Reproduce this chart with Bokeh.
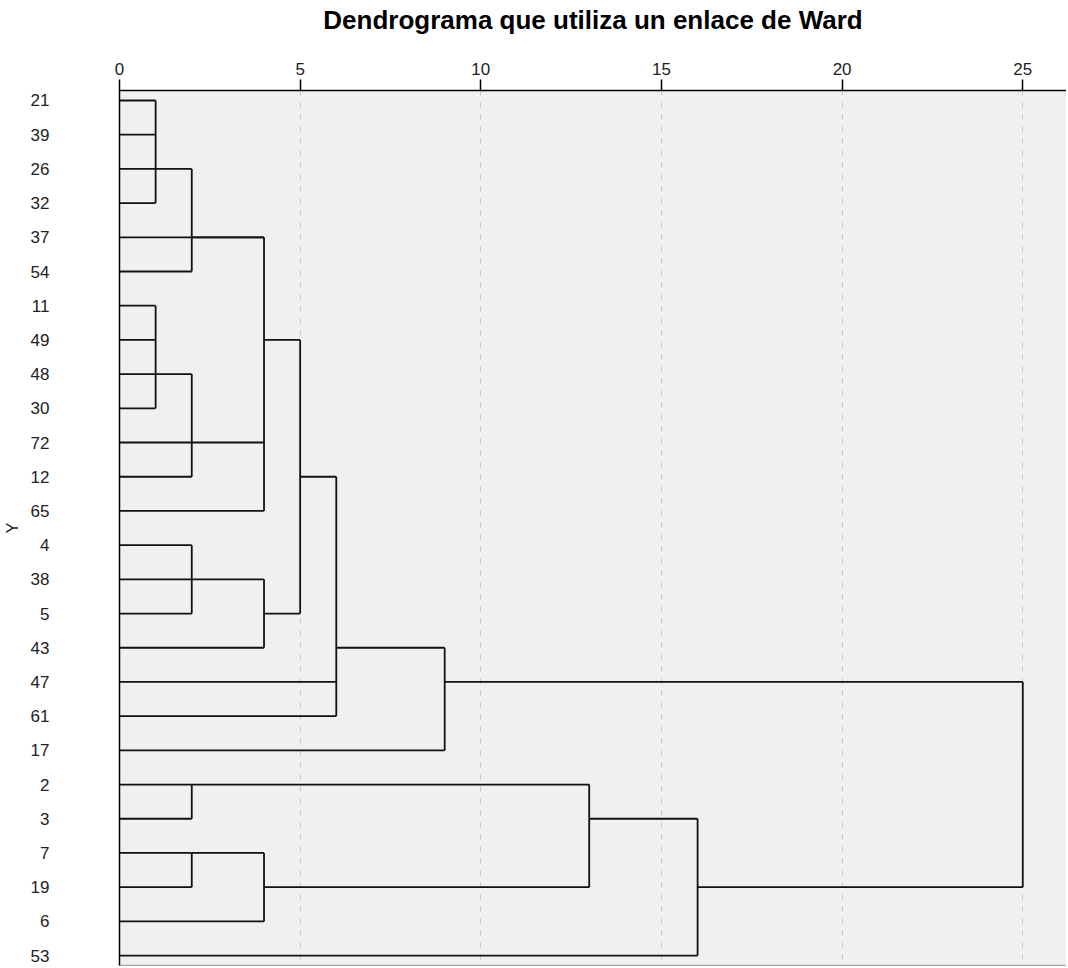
from bokeh.plotting import figure
from bokeh.models import Range1d, FixedTicker, LinearAxis
from bokeh.embed import file_html
from bokeh.resources import INLINE

# ---- data -------------------------------------------------------------
leaves = ["21", "39", "26", "32", "37", "54", "11", "49", "48", "30", "72", "12", "65",
          "4", "38", "5", "43", "47", "61", "17", "2", "3", "7", "19", "6", "53"]

node_names = ["A", "B", "C", "C2", "D", "E", "E2", "F", "G", "H",
              "I", "J", "K", "L", "M", "root"]
node_children = [["21", "39", "26", "32"], ["A", "54"], ["11", "49", "48", "30"],
                 ["C", "72", "12"], ["37", "B", "C2", "65"], ["4", "38", "5"],
                 ["E", "43"], ["D", "E2"], ["F", "47", "61"], ["G", "17"],
                 ["2", "3"], ["7", "19"], ["J", "6"], ["I", "K"], ["L", "53"],
                 ["H", "M"]]
node_heights = [1, 2, 1, 2, 4, 2, 4, 5, 6, 9, 2, 2, 4, 13, 16, 25]
node_rows = ["26", "37", "48", "72", "49", "38", "5", "12", "43", "47",
             "2", "7", "19", "3", "19", "19"]

x_ticks = [0, 5, 10, 15, 20, 25]
title_text = "Dendrograma que utiliza un enlace de Ward"
y_title = "Y"

# ---- geometry from the merge tree --------------------------------------
ypos = {lab: i for i, lab in enumerate(leaves)}
hgt = {lab: 0 for lab in leaves}
for n, h, r in zip(node_names, node_heights, node_rows):
    hgt[n] = h
    ypos[n] = leaves.index(r)

hx0, hx1, hy = [], [], []
vx, vy0, vy1 = [], [], []
for n, ch in zip(node_names, node_children):
    for c in ch:
        if hgt[n] > hgt[c]:
            hx0.append(hgt[c]); hx1.append(hgt[n]); hy.append(ypos[c])
    ys = [ypos[c] for c in ch]
    vx.append(hgt[n]); vy0.append(min(ys)); vy1.append(max(ys))

FONT = "Liberation Sans"

p = figure(width=1066, height=966, output_backend="svg", toolbar_location=None,
           x_axis_location="above",
           x_range=Range1d(0, 26.21), y_range=Range1d(25.29, -0.292),
           min_border_left=116, min_border_top=90, min_border_right=0,
           min_border_bottom=1)
p.background_fill_color = "#f0f0f0"
p.border_fill_color = "white"
p.outline_line_color = None

xa = p.xaxis[0]
xa.ticker = FixedTicker(ticks=x_ticks)
xa.major_tick_out = 11
xa.major_tick_in = 0
xa.minor_tick_line_color = None
xa.major_tick_line_width = 1.5
xa.axis_line_width = 1.5
xa.axis_line_color = "#000000"
xa.major_tick_line_color = "#000000"
xa.major_label_standoff = 5
xa.major_label_text_font = FONT
xa.major_label_text_font_size = "17px"
xa.major_label_text_color = "#222222"
# chart title carried by the top axis' label
xa.axis_label = title_text
xa.axis_label_text_font = FONT
xa.axis_label_text_font_size = "26px"
xa.axis_label_text_font_style = "bold"
xa.axis_label_text_color = "#000000"
xa.axis_label_standoff = 25

ya = p.yaxis[0]
ya.ticker = FixedTicker(ticks=list(range(len(leaves))))
ya.major_label_overrides = {i: lab for i, lab in enumerate(leaves)}
ya.major_tick_line_color = None
ya.minor_tick_line_color = None
ya.axis_line_width = 1.5
ya.axis_line_color = "#000000"
ya.major_label_standoff = 64
ya.major_label_text_font = FONT
ya.major_label_text_font_size = "17px"
ya.major_label_text_color = "#222222"
ya.axis_label = y_title
ya.axis_label_text_font = FONT
ya.axis_label_text_font_size = "16px"
ya.axis_label_text_font_style = "normal"
ya.axis_label_text_color = "#222222"
ya.axis_label_standoff = 7

bottom = LinearAxis(ticker=FixedTicker(ticks=[]), major_label_text_font_size="0px",
                    major_label_standoff=0,
                    major_tick_line_color=None, minor_tick_line_color=None,
                    axis_line_color="#a8a8a8", axis_line_width=1.5)
p.add_layout(bottom, "below")

p.xgrid.ticker = FixedTicker(ticks=x_ticks)
p.xgrid.grid_line_color = "#c8c8c8"
p.xgrid.grid_line_dash = "5 7"
p.xgrid.grid_line_width = 1
p.ygrid.grid_line_color = None

p.segment(x0=hx0, x1=hx1, y0=hy, y1=hy, line_color="#111111", line_width=1.8)
p.segment(x0=vx, x1=vx, y0=vy0, y1=vy1, line_color="#111111", line_width=1.8)

open("out.html", "w").write(file_html(p, INLINE))
